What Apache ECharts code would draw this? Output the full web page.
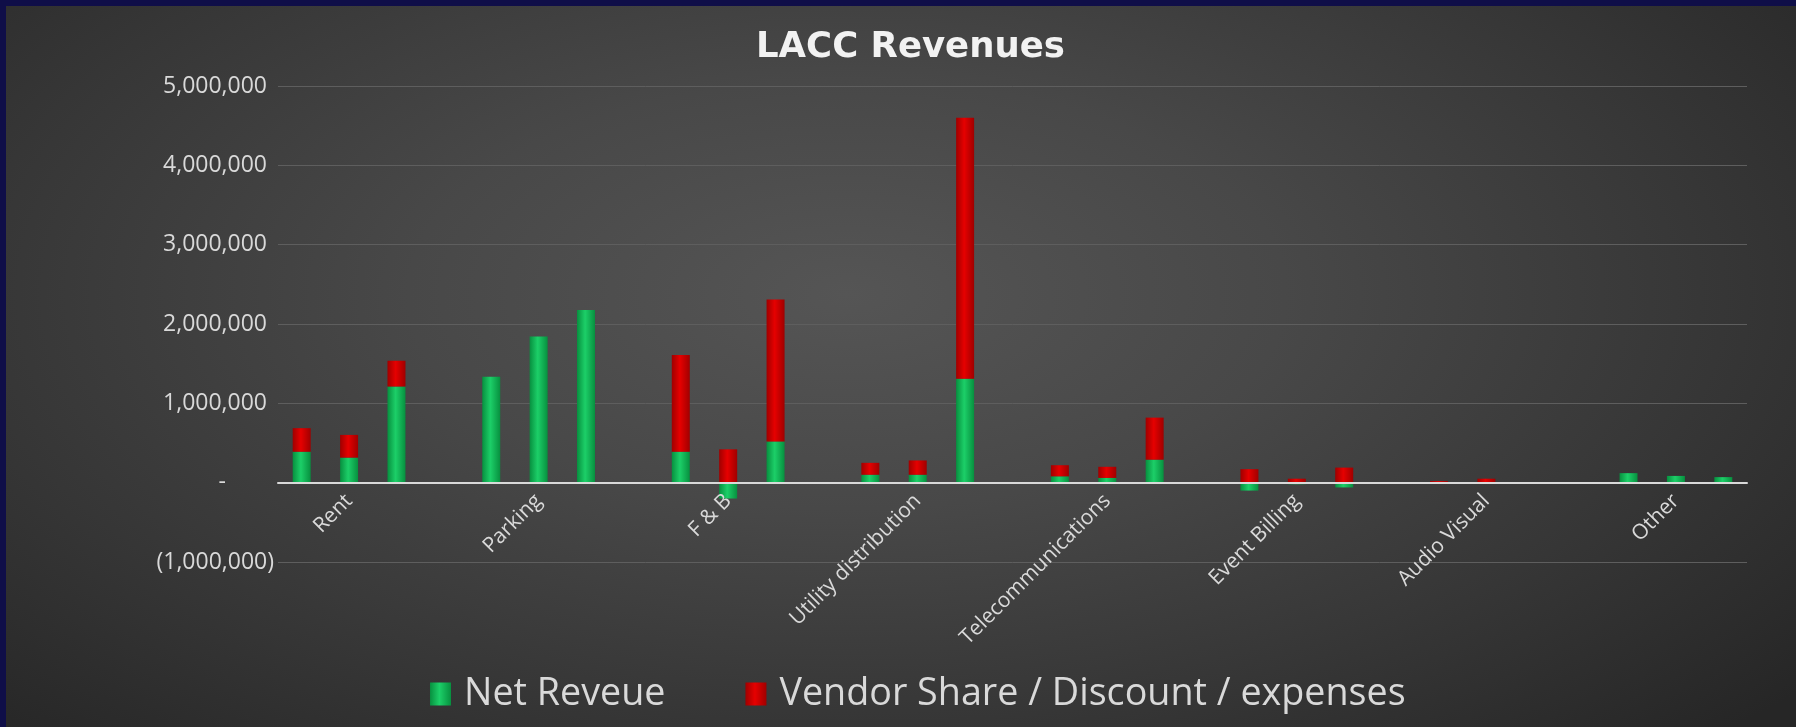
<!DOCTYPE html>
<html>
<head>
<meta charset="utf-8">
<title>LACC Revenues</title>
<script src="https://cdn.jsdelivr.net/npm/echarts@6/dist/echarts.min.js"></script>
<style>
  html, body { margin: 0; padding: 0; }
  #wrap {
    position: relative;
    width: 1796px;
    height: 727px;
    background: #0f0e48;
  }
  #chart {
    position: absolute;
    left: 6px;
    top: 6px;
    width: 1790px;
    height: 721px;
    background: radial-gradient(ellipse 70% 85% at 47% 40%, #555555 0%, #484848 35%, #363636 70%, #262626 100%);
  }
</style>
</head>
<body>
<div id="wrap"><div id="chart"></div></div>
<script>
  // categories and the three bars shown for each one
  const categories = ['Rent', 'Parking', 'F & B', 'Utility distribution', 'Telecommunications', 'Event Billing', 'Audio Visual', 'Other'];
  const netRevenue = [
    [390000, 316000, 1212000],
    [1335000, 1843000, 2177000],
    [390000, -200000, 520000],
    [100000, 100000, 1310000],
    [80000, 60000, 290000],
    [-100000, -20000, -60000],
    [0, 0, 0],
    [120000, 85000, 70000]
  ];
  const vendorShare = [
    [297000, 286000, 325000],
    [0, 0, 0],
    [1220000, 420000, 1790000],
    [150000, 180000, 3290000],
    [140000, 140000, 530000],
    [170000, 50000, 190000],
    [20000, 50000, 0],
    [0, 0, 0]
  ];
  const yTicks = [-1000000, 0, 1000000, 2000000, 3000000, 4000000, 5000000];

  // slots: 3 bars per category with an empty slot between groups
  let slots = [], slotLabels = [], netData = [], vendorData = [];
  categories.forEach((cat, i) => {
    for (let j = 0; j < 3; j++) {
      slots.push(cat + ' ' + (j + 1));
      slotLabels.push(j === 1 ? cat : '');
      netData.push(netRevenue[i][j]);
      vendorData.push(vendorShare[i][j]);
    }
    if (i < categories.length - 1) {
      slots.push('gap ' + i);
      slotLabels.push('');
      netData.push(null);
      vendorData.push(null);
    }
  });

  function fmtNum(v) {
    return Math.abs(v).toString().replace(/\B(?=(\d{3})+(?!\d))/g, ',');
  }

  const greenGrad = {
    type: 'linear', x: 0, y: 0, x2: 1, y2: 0,
    colorStops: [
      {offset: 0, color: '#07903f'},
      {offset: 0.45, color: '#1ccf68'},
      {offset: 1, color: '#07903f'}
    ]
  };
  const redGrad = {
    type: 'linear', x: 0, y: 0, x2: 1, y2: 0,
    colorStops: [
      {offset: 0, color: '#a00000'},
      {offset: 0.45, color: '#e60000'},
      {offset: 1, color: '#a00000'}
    ]
  };

  const gridTop = 80, gridBottom = 165, chartH = 721;
  const yMin = yTicks[0], yMax = yTicks[yTicks.length - 1];
  // move the category axis (line and labels) up to the zero line
  const zeroOffset = (chartH - gridTop - gridBottom) * (0 - yMin) / (yMax - yMin);

  let mychart = echarts.init(document.getElementById('chart'));
  const option = {
    animation: false,
    title: {
      text: 'LACC Revenues',
      left: 750,
      top: 24,
      padding: 0,
      textStyle: {
        color: '#f2f2f2',
        fontFamily: 'DejaVu Sans',
        fontWeight: 'bold',
        fontSize: 35.5
      }
    },
    legend: {
      left: 419,
      top: 664,
      itemWidth: 21,
      itemHeight: 23,
      itemGap: 80,
      icon: 'rect',
      textStyle: {
        color: '#d9d9d9',
        fontFamily: 'Open Sans',
        fontSize: 37.7,
        padding: [0, 0, 0, 8]
      },
      data: ['Net Reveue', 'Vendor Share / Discount / expenses']
    },
    grid: {
      left: 272,
      right: 49,
      top: gridTop,
      bottom: gridBottom,
      containLabel: false
    },
    xAxis: {
      type: 'category',
      data: slots,
      offset: -zeroOffset,
      z: 3,
      axisTick: {show: false},
      axisLine: {
        show: true,
        onZero: false,
        lineStyle: {color: '#d9d9d9', width: 2}
      },
      axisLabel: {
        interval: 0,
        rotate: 45,
        margin: 15,
        color: '#d9d9d9',
        fontFamily: 'Open Sans',
        fontSize: 21,
        formatter: function (value, index) {
          return slotLabels[index];
        }
      }
    },
    yAxis: {
      type: 'value',
      min: yMin,
      max: yMax,
      interval: 1000000,
      axisLine: {show: false},
      axisTick: {show: false},
      splitLine: {lineStyle: {color: '#5e5e5e', width: 1}},
      axisLabel: {
        margin: 4,
        color: '#d9d9d9',
        fontFamily: 'Open Sans',
        fontSize: 23,
        formatter: function (v) {
          if (v === 0) return '{z|-}';
          if (v < 0) return '{n|(' + fmtNum(v) + ')}';
          return '{p|' + fmtNum(v) + '}';
        },
        rich: {
          p: {color: '#d9d9d9', fontFamily: 'Open Sans', fontSize: 23, padding: [0, 7, 0, 0]},
          n: {color: '#d9d9d9', fontFamily: 'Open Sans', fontSize: 23},
          z: {color: '#d9d9d9', fontFamily: 'Open Sans', fontSize: 23, padding: [0, 48, 0, 0]}
        }
      }
    },
    series: [
      {
        name: 'Net Reveue',
        type: 'bar',
        stack: 'rev',
        barWidth: 18,
        itemStyle: {color: greenGrad},
        data: netData
      },
      {
        name: 'Vendor Share / Discount / expenses',
        type: 'bar',
        stack: 'rev',
        barWidth: 18,
        itemStyle: {color: redGrad},
        data: vendorData
      }
    ]
  };
  mychart.setOption(option);
</script>
</body>
</html>
